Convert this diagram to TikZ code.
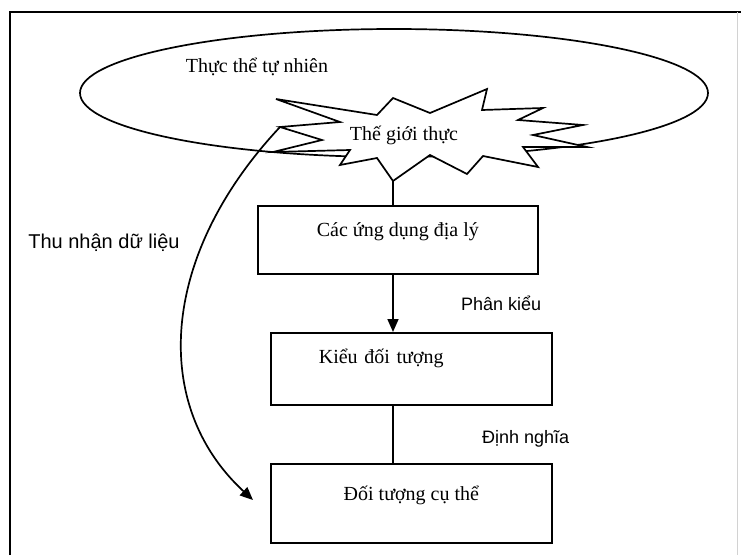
\documentclass[tikz,border=0pt]{standalone}
\usepackage{fontspec}
\setmainfont{Liberation Serif}
\newfontfamily\labelsans{Liberation Sans}
\usetikzlibrary{positioning, shapes.geometric, arrows.meta}
\tikzset{%
  block/.style  = {draw, line width = 1.7pt, rectangle, inner ysep = 0pt,
    font = \fontsize{20}{22}\selectfont},
  realm/.style  = {draw, line width = 1.7pt, ellipse, inner sep = 0pt,
    minimum width = 628pt, minimum height = 128pt}, % Outer ellipse
  txt/.style    = {font = \fontsize{20}{22}\selectfont},
  tag/.style    = {font = \labelsans\fontsize{18}{20}\selectfont}, % Edge label
  link/.style   = {line width = 1.7pt},
  arrow/.style  = {link, -{Triangle[length = 13pt, width = 11pt]}}
}

\begin{document}
\begin{tikzpicture}[x = 1pt, y = -1pt]
\useasboundingbox (0,0) rectangle (741,555);
%frame
\draw[link] (10,555) -- (10,12) -- (741,12);
\draw[gray!35, line width = 1pt] (737,12) -- (737,555);
%natural entities
\node[realm] (nature) at (394,93) {};
\node[txt] (naturelbl) at (257,67) {Thực thể tự nhiên};
%real world burst
\draw[link, fill = white]
  (276,99) -- (377,115) -- (393,98) -- (430,113) -- (487,89) -- (482,110)
  -- (543,108) -- (518,120) -- (583,125) -- (533,135) -- (587,147)
  -- (523,147) -- (538,167) -- (483,156) -- (467,174) -- (430,155)
  -- (393,181) coordinate (starbot) -- (377,158) -- (340,165) -- (350,150)
  -- (273,152) -- (322,140) -- (280,127) coordinate (startip) -- (340,122)
  -- cycle;
\node[txt] (world) at (404,135) {Thế giới thực};
%blocks
\draw
	(257,205) node [block, anchor = north west, minimum width = 280pt,
	  text height = 31pt, text depth = 37pt] (apps) {Các ứng dụng địa lý}
	(270,332) node [block, anchor = north west, text width = 185pt,
	  inner xsep = 48pt, align = left, text height = 31pt,
	  text depth = 41pt] (types) {Kiểu đối tượng}
	(270,463) node [block, anchor = north west, minimum width = 281pt,
	  text height = 37pt, text depth = 42pt] (objs) {Đối tượng cụ thể};
%lines
\draw[link] (starbot) -- (apps.north -| starbot);
\draw[arrow] (apps.south -| starbot) -- node [tag, right = 64pt] (sub) {Phân kiểu} (types.north -| starbot);
\draw[link] (types.south -| starbot) -- node [tag, right = 85pt, yshift = -4pt] (def) {Định nghĩa} (objs.north -| starbot);
%data capture
\coordinate (grab) at (253,500);
\draw[arrow] (startip) .. controls (160,255) and (150,405) .. (grab);
\node[tag, font = \labelsans\fontsize{20}{22}\selectfont] (acq) at (104,243) {Thu nhận dữ liệu};
\end{tikzpicture}
\end{document}
